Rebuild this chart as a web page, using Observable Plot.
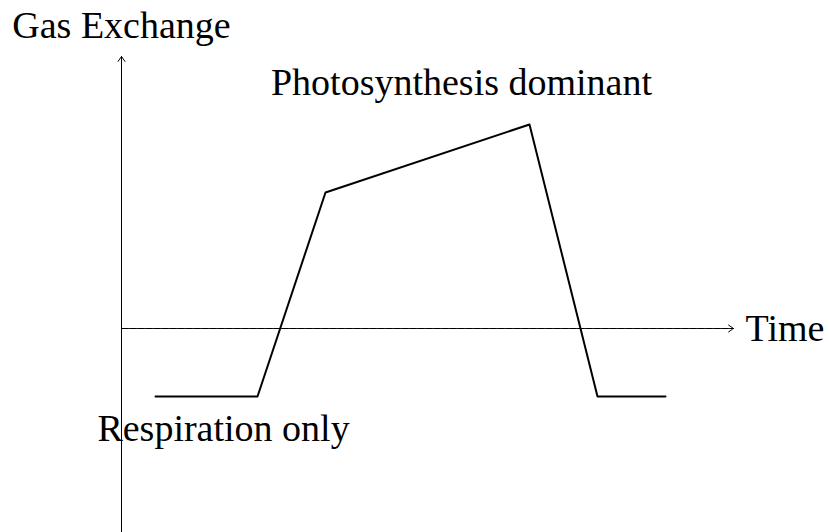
<!DOCTYPE html>
<html><head><meta charset="utf-8">
<script src="https://cdn.jsdelivr.net/npm/d3@7"></script>
<script src="https://cdn.jsdelivr.net/npm/@observablehq/plot@0.6"></script>
<style>body{margin:0;background:#fff}</style>
</head><body><div id="chart"></div>
<script>
const timeValues = [0.5, 2, 3, 6, 7, 8];
const gasValues = [-1, -1, 2, 3, -1, -1];
const labelText = ["Photosynthesis dominant", "Respiration only"];
const labelX = [5, 1.5];
const labelY = [3.5, -1.5];
const xAxisEnd = 9;
const yAxisTop = 4;
const yAxisBottom = -3;
const xTitle = "Time";
const yTitle = "Gas Exchange";

const curve = timeValues.map((t, i) => ({t, g: gasValues[i]}));
const labels = labelText.map((s, i) => ({s, x: labelX[i], y: labelY[i]}));
const font = "Liberation Serif, Times New Roman, serif";
const u = 68;
const fs = 38;

const chart = Plot.plot({
  width: 829, height: 532,
  margin: 0,
  style: {fontFamily: font, background: "#fff"},
  x: {domain: [-121 / u, 708 / u], range: [0, 829], axis: null},
  y: {domain: [-204 / u, 328 / u], range: [532, 0], axis: null},
  marks: [
    Plot.arrow([{x1: 0, y1: 0, x2: xAxisEnd, y2: 0}], {x1: "x1", y1: "y1", x2: "x2", y2: "y2", stroke: "#000", strokeWidth: 1, headLength: 9, headAngle: 70, strokeDasharray: "7,1"}),
    Plot.arrow([{x1: 0, y1: yAxisBottom, x2: 0, y2: yAxisTop}], {x1: "x1", y1: "y1", x2: "x2", y2: "y2", stroke: "#000", strokeWidth: 1, headLength: 9, headAngle: 70}),
    Plot.line(curve, {x: "t", y: "g", stroke: "#000", strokeWidth: 2}),
    Plot.text(labels.slice(0, 1), {x: "x", y: "y", text: "s", fontSize: fs, dy: -8, fill: "#000"}),
    Plot.text(labels.slice(1), {x: "x", y: "y", text: "s", fontSize: fs, dy: -2, fill: "#000"}),
    Plot.text([xTitle], {x: xAxisEnd, y: 0, text: d => d, textAnchor: "start", dx: 12, fontSize: fs, fill: "#000"}),
    Plot.text([yTitle], {x: 0, y: yAxisTop, text: d => d, dy: -31, fontSize: fs, fill: "#000"})
  ]
});
document.getElementById("chart").append(chart);
</script>
</body></html>
